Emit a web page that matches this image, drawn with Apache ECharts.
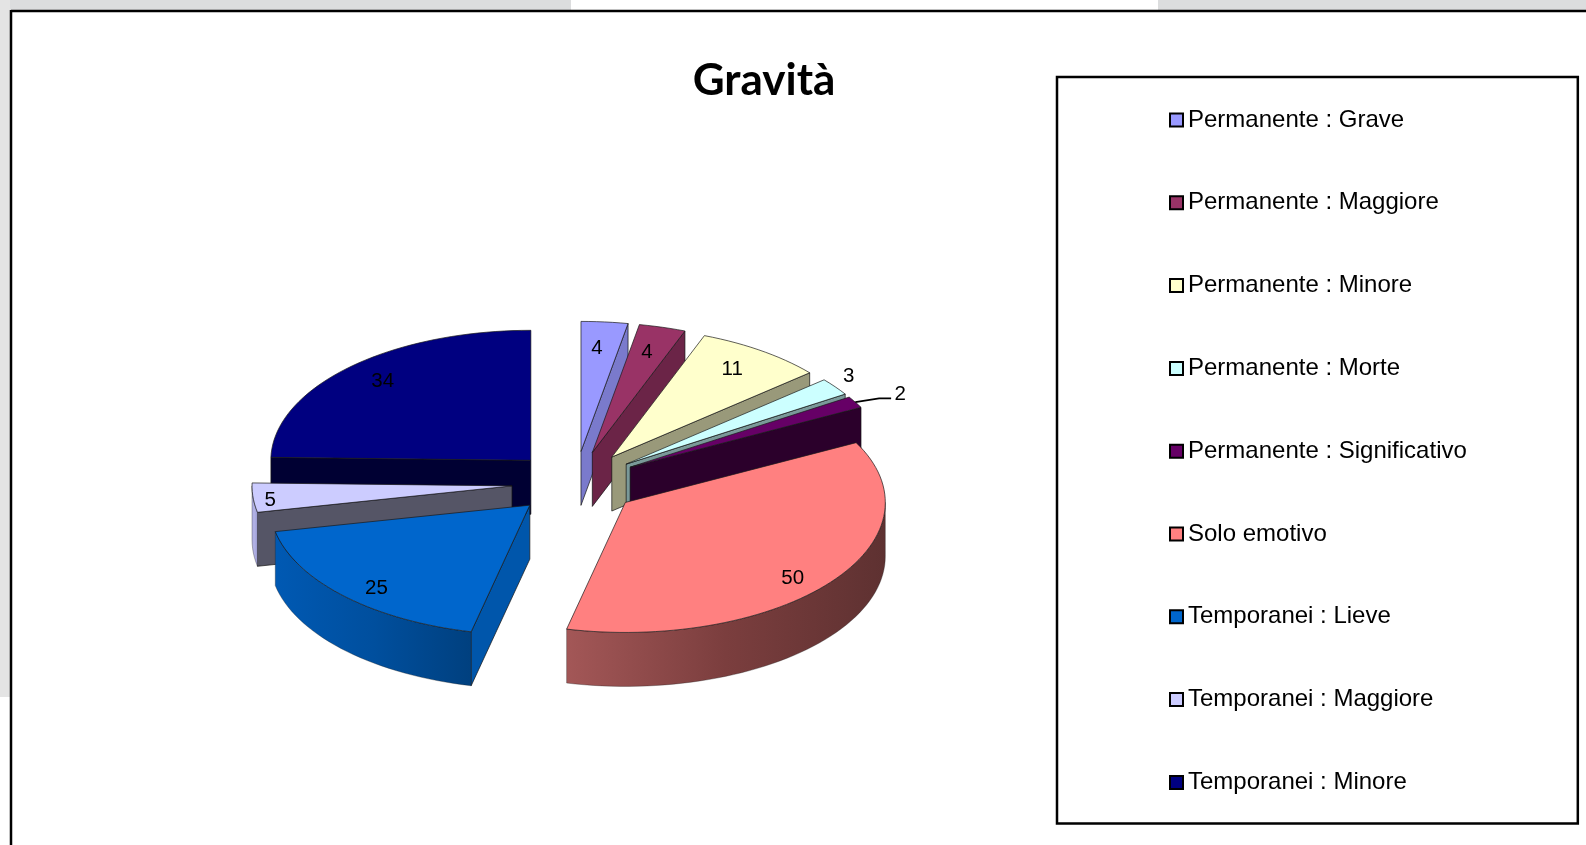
<!DOCTYPE html>
<html>
<head>
<meta charset="utf-8">
<title>Gravità</title>
<style>
  html, body { margin: 0; padding: 0; background: #fff; }
  #chart { width: 1586px; height: 845px; }
</style>
<script src="https://cdn.jsdelivr.net/npm/echarts@6/dist/echarts.min.js"></script>
</head>
<body>
<div id="chart"></div>
<script>
// dati
const categories = [
  'Permanente : Grave', 'Permanente : Maggiore', 'Permanente : Minore',
  'Permanente : Morte', 'Permanente : Significativo', 'Solo emotivo',
  'Temporanei : Lieve', 'Temporanei : Maggiore', 'Temporanei : Minore'
];
const values = [4, 4, 11, 3, 2, 50, 25, 5, 34];

// colori: faccia superiore, taglio, parete esterna
const topColors = ['#9999ff', '#993366', '#ffffcc', '#ccffff', '#660066', '#ff8080', '#0066cc', '#ccccff', '#000080'];
const cutColors = ['#7a7acc', '#6b2447', '#99997a', '#7a9999', '#2b002b', '#5e3131', '#0056ab', '#555566', '#000033'];
const wallColors = [null, null, null, null, null,
  ['#a35757', '#7b3e3e', '#5e3131'], ['#0059b3', '#004f9e', '#00407f'], ['#b0b0e4', '#b0b0e4', '#9a9ad0'], null];

// dove cade l'etichetta, in frazioni di raggio lungo la bisettrice
const labelReachX = [0.68, 0.78, 0.803, 1.065, 1.199, 0.815, 0.825, 0.934, 0.815];
const labelReachY = [0.806, 0.806, 0.839, 1.146, 1.135, 0.94, 0.901, 1.17, 0.861];

const FONT = '"Liberation Sans", Arial, sans-serif';
const EXPLODE = 0.244;   // stacco delle fette
const DEPTH = 0.415;     // spessore, in raggi verticali
const total = values.reduce((a, b) => a + b, 0);

let acc = 0;
const slices = values.map(v => {
  const s = { a0: acc / total * 360, a1: (acc + v) / total * 360 };
  acc += v;
  s.mid = (s.a0 + s.a1) / 2;
  return s;
});

const rad = d => d * Math.PI / 180;
const onCircle = (a, r) => [r * Math.sin(rad(a)), r * Math.cos(rad(a))];

function arc(a0, a1, cx, cy, dy) {
  const pts = [];
  const n = Math.max(2, Math.ceil((a1 - a0) / 2));
  for (let i = 0; i <= n; i++) {
    const p = onCircle(a0 + (a1 - a0) * i / n, 1);
    pts.push([cx + p[0], cy + p[1] - dy]);
  }
  return pts;
}

function renderSlice(idx) {
  return function (params, api) {
    const s = slices[idx];
    const off = onCircle(s.mid, EXPLODE);
    const cx = off[0], cy = off[1];
    const px = pts => pts.map(p => api.coord(p));
    const z = Math.round(-1000 * Math.cos(rad(s.mid))) + 2000;
    const children = [];

    // tagli visibili
    const cut = a => {
      const o = onCircle(a, 1);
      children.push({
        type: 'polygon', z2: z,
        shape: { points: px([[cx, cy], [cx + o[0], cy + o[1]], [cx + o[0], cy + o[1] - DEPTH], [cx, cy - DEPTH]]) },
        style: { fill: cutColors[idx], stroke: '#111', lineWidth: 0.7 }
      });
    };
    if (s.a0 > 180) cut(s.a0);
    if (s.a1 < 180) cut(s.a1);

    // parete esterna, solo la parte davanti
    const w0 = Math.max(s.a0, 90), w1 = Math.min(s.a1, 270);
    if (w1 > w0 && wallColors[idx]) {
      const c = wallColors[idx];
      const lower = arc(w0, w1, cx, cy, DEPTH);
      const upper = arc(w0, w1, cx, cy, 0).reverse();
      children.push({
        type: 'polygon', z2: z,
        shape: { points: px(lower.concat(upper)) },
        style: {
          fill: new echarts.graphic.LinearGradient(0, 0, 1, 0, [
            { offset: 0, color: c[0] }, { offset: 0.5, color: c[1] }, { offset: 1, color: c[2] }
          ]),
          stroke: 'rgba(30,30,30,0.55)', lineWidth: 0.6
        }
      });
    }

    // faccia superiore
    children.push({
      type: 'polygon', z2: z,
      shape: { points: px([[cx, cy]].concat(arc(s.a0, s.a1, cx, cy, 0))) },
      style: { fill: topColors[idx], stroke: '#1a1a1a', lineWidth: 0.7 }
    });

    // etichetta
    const lx = cx + labelReachX[idx] * Math.sin(rad(s.mid));
    const ly = cy + labelReachY[idx] * Math.cos(rad(s.mid));
    const at = api.coord([lx, ly]);
    children.push({
      type: 'text', z2: 5000,
      style: {
        text: String(api.value(2)), x: at[0], y: at[1] + 1, align: 'center', verticalAlign: 'middle',
        font: '20.5px ' + FONT, fill: '#000'
      }
    });

    // linea guida per la fetta piu' piccola
    if (api.value(2) === 2) {
      const o = onCircle(s.mid, 1);
      const a = api.coord([cx + o[0], cy + o[1]]);
      children.push({
        type: 'polyline', z2: 5000,
        shape: { points: [a, [at[0] - 21, at[1] + 5], [at[0] - 9, at[1] + 5]] },
        style: { fill: 'none', stroke: '#000', lineWidth: 1.8 }
      });
    }
    return { type: 'group', children: children };
  };
}

const chart = echarts.init(document.getElementById('chart'), null, { renderer: 'canvas' });
chart.setOption({
  animation: false,
  backgroundColor: '#fff',
  title: {
    text: 'Gravità', left: 759, top: 54, textAlign: 'center',
    textStyle: { fontFamily: 'Lato', fontWeight: 'bold', fontSize: 44, color: '#000' }
  },
  legend: {
    data: categories, orient: 'vertical', left: 1057, top: 77,
    padding: [29, 111, 27, 112],
    icon: 'rect', itemWidth: 13, itemHeight: 13, itemGap: 54.8, itemTextGap: 4,
    itemStyle: { borderColor: '#000', borderWidth: 2 },
    textStyle: { fontFamily: FONT, fontSize: 24, color: '#000', lineHeight: 26, padding: [2, 0, 0, 0] },
    borderColor: '#000', borderWidth: 2.5, backgroundColor: '#fff',
    selectedMode: false
  },
  grid: { left: 185.2, top: 288, width: 780, height: 390 },
  xAxis: { type: 'value', min: -1.5, max: 1.5, show: false },
  yAxis: { type: 'value', min: -1.5, max: 1.5, show: false },
  graphic: [
    { type: 'rect', silent: true, z: -1, shape: { x: 0, y: 0, width: 571, height: 10 }, style: { fill: '#dcddde' } },
    { type: 'rect', silent: true, z: -1, shape: { x: 1158, y: 0, width: 428, height: 10 }, style: { fill: '#dcddde' } },
    { type: 'rect', silent: true, z: -1, shape: { x: 0, y: 0, width: 10, height: 697 }, style: { fill: '#e4e4e4' } },
    { type: 'line', silent: true, z: -1, shape: { x1: 11, y1: 11, x2: 1586, y2: 11 }, style: { stroke: '#000', lineWidth: 2.5 } },
    { type: 'line', silent: true, z: -1, shape: { x1: 11, y1: 10, x2: 11, y2: 845 }, style: { stroke: '#000', lineWidth: 2.5 } }
  ],
  series: categories.map((name, i) => ({
    name: name,
    type: 'custom',
    coordinateSystem: 'cartesian2d',
    silent: true,
    itemStyle: { color: topColors[i] },
    data: [[0, 0, values[i]]],
    renderItem: renderSlice(i)
  }))
});
</script>
</body>
</html>
